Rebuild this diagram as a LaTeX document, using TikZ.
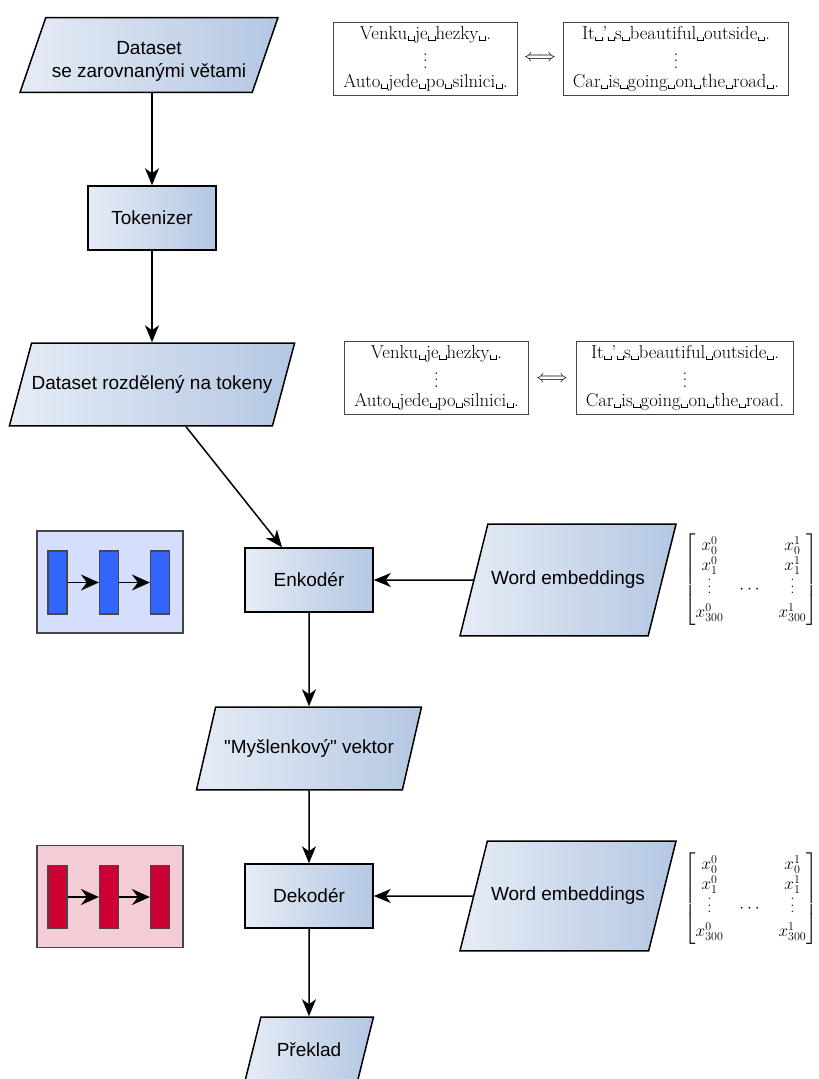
\documentclass[tikz,border=0pt]{standalone}
\usepackage{amsmath}
\usepackage{amssymb}
\usepackage{fontspec}
\newfontfamily\labelfont{Liberation Sans}
\usepackage{tikz}
\usepackage{xcolor}
\usetikzlibrary{arrows.meta,shapes.geometric,calc}
\tikzset{>={Stealth[length=17pt,width=14pt,inset=5pt]}}

\definecolor{shadeL}{RGB}{230,236,246}
\definecolor{shadeR}{RGB}{180,199,226}
\definecolor{encback}{RGB}{213,222,252}
\definecolor{encbar}{RGB}{51,102,255}
\definecolor{decback}{RGB}{244,204,214}
\definecolor{decbar}{RGB}{204,0,51}
\definecolor{boxline}{RGB}{70,70,70}

\newcommand{\vsp}{\kern.02em\raisebox{-.1em}{\rule{.04em}{.24em}\rule{.3em}{.04em}\rule{.04em}{.24em}}\kern.02em}
\newcommand{\tallvdots}{\vbox{\baselineskip6.5pt\lineskiplimit0pt\hbox{.}\hbox{.}\hbox{.}}}

\tikzset{
	io/.style={trapezium, trapezium left angle=#1, trapezium right angle={180-#1},
		trapezium stretches body, draw=black, line width=1.5pt,
		left color=shadeL, right color=shadeR, align=center, inner xsep=0pt,
		font=\labelfont\fontsize{19}{23}\selectfont},
	process/.style={rectangle, draw=black, line width=1.5pt,
		left color=shadeL, right color=shadeR, inner sep=0pt,
		minimum width=128pt, minimum height=64pt,
		font=\labelfont\fontsize{19}{23}\selectfont},
	sentbox/.style={rectangle, draw=boxline, line width=1pt, fill=white,
		align=center, inner xsep=9.5pt, inner ysep=2pt, minimum height=73pt,
		font=\fontsize{18.7}{19}\selectfont},
	netbox/.style={rectangle, draw=boxline, line width=1.5pt, fill=#1,
		minimum width=146pt, minimum height=102pt},
	layerbar/.style={rectangle, draw=boxline, line width=1.2pt, fill=#1,
		minimum width=19pt, minimum height=63pt, inner sep=0pt},
	flow/.style={->, line width=1.5pt},
	small flow/.style={-{Stealth[length=18pt,width=16pt,inset=6pt]}, line width=1.5pt},
	embmatrix/.style={font=\fontsize{17}{20}\selectfont, inner sep=0pt}
}

\begin{document}
\begin{tikzpicture}[x=1pt,y=-1pt]
	\useasboundingbox (0,0) rectangle (819,1079);

	% hlavni tok
	\node[io=71, inner ysep=11pt, minimum width=258pt] (data) at (149,55) {\rule{0pt}{26pt}Dataset\\se zarovnanými větami};
	\node[process] (tok) at (152,218) {Tokenizer};
	\node[io=75, inner ysep=32.5pt, minimum width=285pt] (split) at (152,384.5) {Dataset rozdělený na tokeny};
	\node[process] (enc) at (309,580) {Enkodér};
	\node[io=77, inner ysep=32.5pt, minimum width=225pt] (thought) at (309,748.5) {"Myšlenkový" vektor};
	\node[process] (dec) at (309,896) {Dekodér};
	\node[io=76, inner ysep=26pt, minimum width=129pt] (transl) at (309,1050) {Překlad};

	% vstupy
	\node[io=76, inner ysep=47pt, minimum width=216pt] (emb1) at (568,580) {Word embeddings};
	\node[io=76, inner ysep=46pt, minimum width=216pt] (emb2) at (568,896) {Word embeddings};

	% ukazky vet
	\node[sentbox] (cs1) at (425.5,58.5) {Venku\vsp je\vsp hezky\vsp.\\[10pt]\tallvdots\\Auto\vsp jede\vsp po\vsp silnici\vsp.};
	\node[sentbox] (en1) at (676,58.5) {It\vsp'\vsp s\vsp beautiful\vsp outside\vsp.\\[10pt]\tallvdots\\Car\vsp is\vsp going\vsp on\vsp the\vsp road\vsp.};
	\node[font=\fontsize{17}{20}\selectfont] (eq1) at (540,58) {$\Longleftrightarrow$};
	\node[sentbox] (cs2) at (436.5,377.5) {Venku\vsp je\vsp hezky\vsp.\\[10pt]\tallvdots\\Auto\vsp jede\vsp po\vsp silnici\vsp.};
	\node[sentbox] (en2) at (685,377.5) {It\vsp'\vsp s\vsp beautiful\vsp outside\vsp.\\[10pt]\tallvdots\\Car\vsp is\vsp going\vsp on\vsp the\vsp road.};
	\node[font=\fontsize{17}{20}\selectfont] (eq2) at (552,379) {$\Longleftrightarrow$};

	% matice embeddingu
	\node[embmatrix] (mat1) at (751,580) {\setlength{\arraycolsep}{8pt}$\begin{bmatrix} x_0^0 & & x_0^1\\ x_1^0 & & x_1^1\\[3pt] \tallvdots & \cdots & \tallvdots\\[4pt] x_{300}^0 & & x_{300}^1 \end{bmatrix}$};
	\node[embmatrix] (mat2) at (751,899) {\setlength{\arraycolsep}{8pt}$\begin{bmatrix} x_0^0 & & x_0^1\\ x_1^0 & & x_1^1\\[3pt] \tallvdots & \cdots & \tallvdots\\[4pt] x_{300}^0 & & x_{300}^1 \end{bmatrix}$};

	% site
	\node[netbox=encback] (net1) at (110,582) {};
	\node[layerbar=encbar] (e1) at (57.5,582.5) {};
	\node[layerbar=encbar] (e2) at (109,582.5) {};
	\node[layerbar=encbar] (e3) at (160,582.5) {};
	\node[netbox=decback] (net2) at (110,896.5) {};
	\node[layerbar=decbar] (d1) at (57.5,897) {};
	\node[layerbar=decbar] (d2) at (109,897) {};
	\node[layerbar=decbar] (d3) at (160,897) {};

	\draw[small flow] (e1) -- (e2);
	\draw[small flow] (e2) -- (e3);
	\draw[small flow] (d1) -- (d2);
	\draw[small flow] (d2) -- (d3);

	\draw[flow] (data.south -| tok.north) -- (tok.north);
	\draw[flow] (tok.south) -- (split.north -| tok.south);
	\draw[flow] ([xshift=34pt]split.south) -- ([xshift=-27pt]enc.north);
	\draw[flow] (emb1.west) -- (enc.east);
	\draw[flow] (enc.south) -- (thought.north);
	\draw[flow] (thought.south) -- (dec.north);
	\draw[flow] (emb2.west) -- (dec.east);
	\draw[flow] (dec.south) -- (transl.north);
\end{tikzpicture}
\end{document}
